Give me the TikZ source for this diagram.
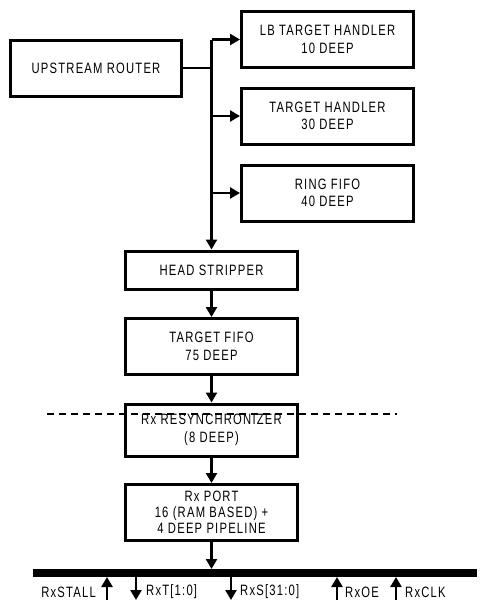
\documentclass[tikz,border=0pt]{standalone}
\usepackage{fontspec}
\setmainfont{Liberation Sans}[FakeStretch=0.75, LetterSpace=8]
\usetikzlibrary{arrows.meta}

\begin{document}
\begin{tikzpicture}[x=1pt, y=-1pt,
	font=\fontsize{15}{17.5}\selectfont,
	box/.style={draw, line width=3pt, minimum width=172pt, minimum height=56pt, inner sep=0pt, align=center},
	arr/.style={line width=2.4pt, -{Triangle[length=10pt,width=11pt]}},
	bus/.style={line width=8pt},
	sig/.style={inner sep=0pt, anchor=west}]
\useasboundingbox (0,0) rectangle (489,614);
\node[box, minimum width=171pt] (router) at (96,68) {UPSTREAM ROUTER};
\node[box] (lbt) at (327.5,39.5) {LB TARGET HANDLER\\10 DEEP};
\node[box] (tgt) at (327.5,116) {TARGET HANDLER\\30 DEEP};
\node[box] (ring) at (327.5,193) {RING FIFO\\40 DEEP};
\node[box, minimum height=38pt] (strip) at (211.5,270) {HEAD STRIPPER};
\node[box] (tfifo) at (211.5,346.5) {TARGET FIFO\\75 DEEP};
\node[box, minimum height=52pt] (resync) at (211.5,430) {Rx RESYNCHRONIZER\\(8 DEEP)};
\node[box, font=\fontsize{15}{16}\selectfont] (port) at (211.5,512.5) {Rx PORT\\16 (RAM BASED) +\\4 DEEP PIPELINE};

\coordinate (top) at (strip.north |- lbt.west);
\draw[line width=2.4pt] (router.east) -- (router.east -| top);
\draw[arr] (top) -- (strip.north);
\draw[arr] (top) -- (lbt.west);
\draw[arr] (strip.north |- tgt.west) -- (tgt.west);
\draw[arr] (strip.north |- ring.west) -- (ring.west);
\draw[arr] (strip) -- (tfifo);
\draw[arr] (tfifo) -- (resync);
\draw[arr] (resync) -- (port);

% clock domain boundary
\coordinate (dl) at (47,414);
\coordinate (dr) at (397,414);
\draw[line width=2pt, dash pattern=on 7pt off 5pt] (dl) -- (dr);

% receive bus
\coordinate (busl) at (33,573);
\coordinate (busr) at (477,573);
\draw[bus] (busl) -- (busr);
\draw[arr] (port) -- (port.south |- 0,569);

\node[sig, anchor=east] (stall) at (96,592) {RxSTALL};
\node[sig] (rxt) at (146,592) {RxT[1:0]};
\node[sig] (rxs) at (240,592) {RxS[31:0]};
\node[sig] (rxoe) at (345,592) {RxOE};
\node[sig] (rxclk) at (405,592) {RxCLK};

\draw[arr] (107,600) -- (107,577);
\draw[arr] (136,577) -- (136,600);
\draw[arr] (231,577) -- (231,600);
\draw[arr] (337,600) -- (337,577);
\draw[arr] (396,600) -- (396,577);
\end{tikzpicture}
\end{document}
